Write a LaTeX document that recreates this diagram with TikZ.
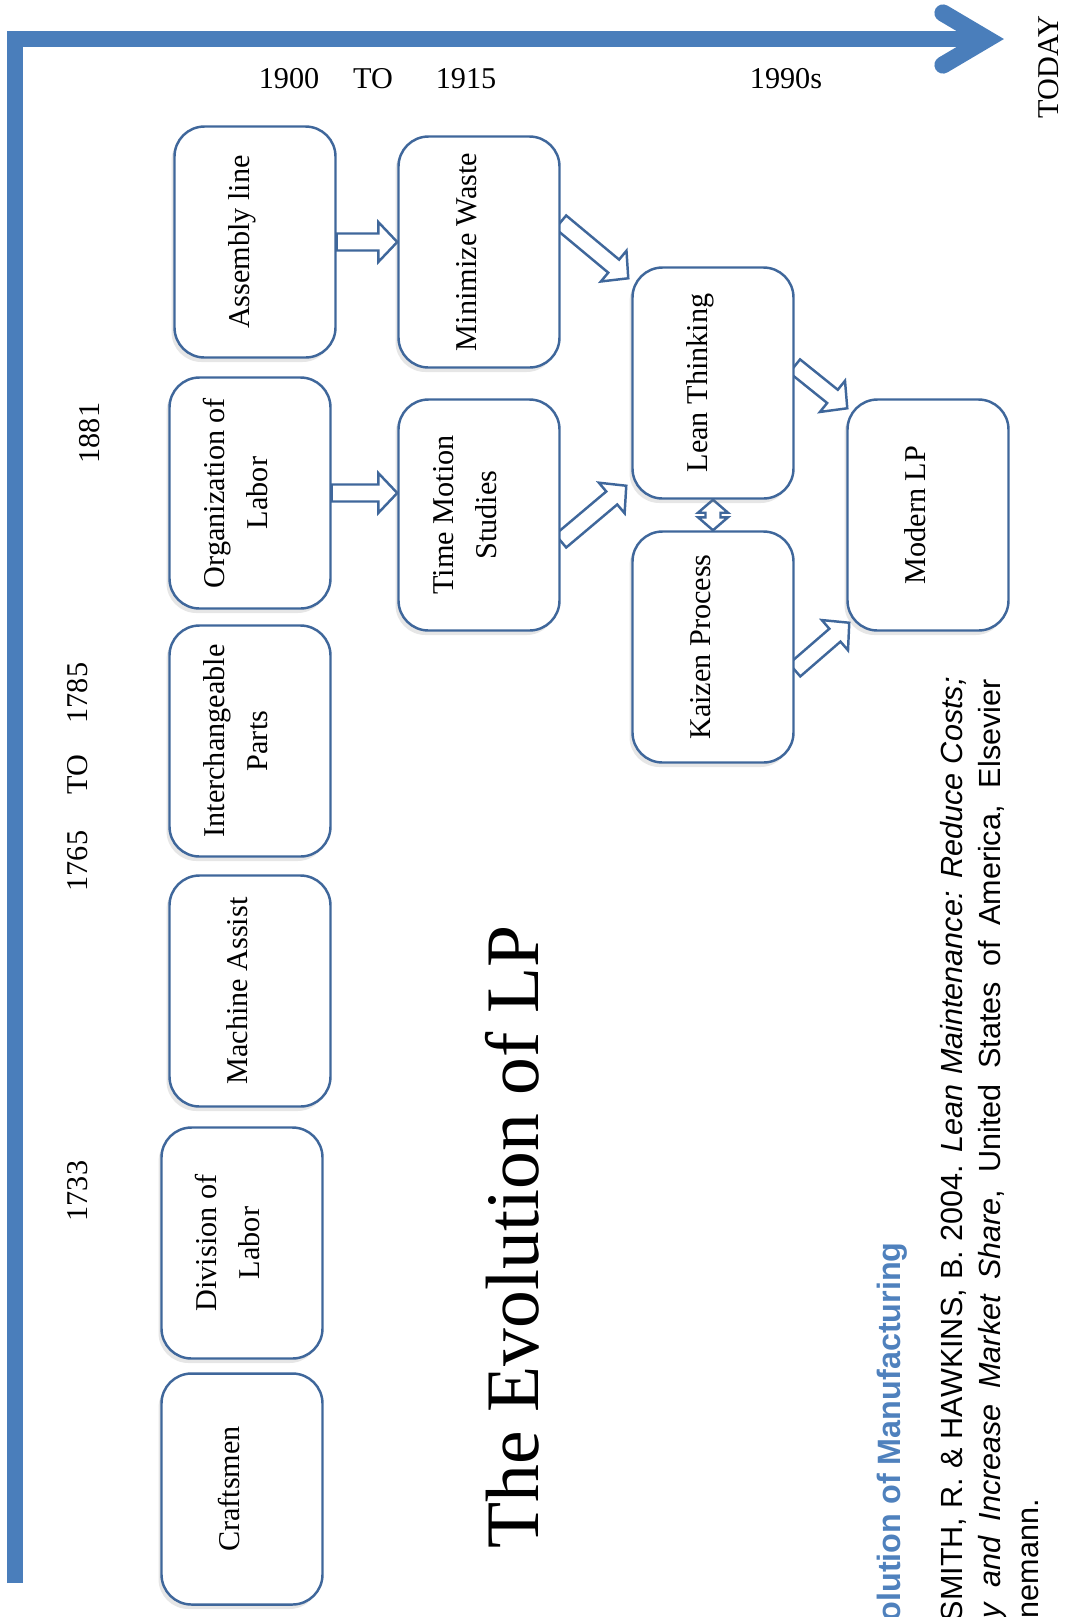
\documentclass[tikz,border=0pt]{standalone}
\usepackage{fontspec}
\usepackage{graphicx}
\setmainfont{Liberation Serif}
\newfontfamily\refsans{Liberation Sans}
\usetikzlibrary{calc,shadows,backgrounds}

\definecolor{axisblue}{HTML}{4A7EBB}
\definecolor{edgeblue}{HTML}{3F679B}
\definecolor{headblue}{HTML}{4F81BD}

\tikzset{
  timeline/.style={draw=axisblue, line width=4.6pt},
  stagebox/.style={draw=edgeblue, line width=0.7pt, fill=white,
    rounded corners=3mm, minimum width=16.1mm, minimum height=23.1mm,
    inner sep=0pt, align=center,
    drop shadow={shadow xshift=-0.3mm, shadow yshift=-0.45mm, opacity=0.2}},
  era/.style={inner sep=0pt, anchor=base},
  eraup/.style={inner sep=0pt, anchor=base, rotate=90},
  hollow/.style={draw=edgeblue, line width=0.7pt, fill=white, line join=miter},
  refline/.style={inner sep=0pt, anchor=base west, rotate=90},
  reffont/.style={font=\refsans\fontsize{8.7}{10}\selectfont},
}

% hollow block arrow from #1 to #2: shaft half-width #3, head half-width #4, head length #5
\newcommand\blockarrow[5]{%
  \coordinate (hb) at ($(#2)!#5!(#1)$);
  \draw[hollow] ($(#1)!#3!90:(#2)$) -- ($(hb)!#3!90:(#2)$) -- ($(hb)!#4!90:(#2)$)
    -- (#2) -- ($(hb)!#4!-90:(#2)$) -- ($(hb)!#3!-90:(#2)$)
    -- ($(#1)!#3!-90:(#2)$) -- cycle;
}
% same, with a head at both ends
\newcommand\doubleblockarrow[5]{%
  \coordinate (hba) at ($(#1)!#5!(#2)$);
  \coordinate (hbb) at ($(#2)!#5!(#1)$);
  \draw[hollow] (#1) -- ($(hba)!#4!90:(#2)$) -- ($(hba)!#3!90:(#2)$)
    -- ($(hbb)!#3!90:(#2)$) -- ($(hbb)!#4!90:(#2)$) -- (#2)
    -- ($(hbb)!#4!-90:(#2)$) -- ($(hbb)!#3!-90:(#2)$)
    -- ($(hba)!#3!-90:(#2)$) -- ($(hba)!#4!-90:(#2)$) -- cycle;
}
% upright stage label, turned to read upwards and set a little towards the left edge
\newcommand\stagetext[1]{\rotatebox{90}{\raisebox{1.25mm}[\height][\depth]{#1}}}
\newcommand\twolines[2]{\begin{tabular}{@{}c@{}}#1\\#2\end{tabular}}

\begin{document}
\begin{tikzpicture}[x=0.1mm, y=-0.1mm, font=\fontsize{8.6}{12}\selectfont]
\useasboundingbox (0,0) rectangle (1065,1617);
\clip (0,0) rectangle (1065,1617);

% time axes
\coordinate (axisbottom) at (15,1583);
\coordinate (corner) at (15,39);
\coordinate (axisend) at (982,39);
\coordinate (tipup) at (943,13);
\coordinate (tip) at (987,39);
\coordinate (tipdown) at (943,65);
\draw[timeline] (axisbottom) -- (corner) -- (axisend);
\draw[timeline, line width=4.9pt, line cap=round, line join=miter]
  (tipup) -- (tip) -- (tipdown);

% dates
\node[eraup] (today) at (1058,67) {TODAY};
\node[era] (y1900) at (289,88) {1900};
\node[era] (yto1) at (373,88) {TO};
\node[era] (y1915) at (466,88) {1915};
\node[era] (y1990) at (786,88) {1990s};
\node[eraup] (y1881) at (99,433) {1881};
\node[eraup] (y1785) at (87,693) {1785};
\node[eraup] (yto2) at (87,775) {TO};
\node[eraup] (y1765) at (87,861) {1765};
\node[eraup] (y1733) at (87,1191) {1733};

% stages
\node[stagebox] (asm) at (255,242) {\stagetext{Assembly line}};
\node[stagebox] (org) at (250,493) {\stagetext{\twolines{Organization of}{Labor}}};
\node[stagebox] (inter) at (250,741) {\stagetext{\twolines{Interchangeable}{Parts}}};
\node[stagebox] (mach) at (250,991) {\stagetext{Machine Assist}};
\node[stagebox] (div) at (242,1243) {\stagetext{\twolines{Division of}{Labor}}};
\node[stagebox] (craft) at (242,1489) {\stagetext{Craftsmen}};
\node[stagebox] (mw) at (479,252) {\stagetext{Minimize Waste}};
\node[stagebox] (tms) at (479,515) {\stagetext{\twolines{Time Motion}{Studies}}};
\node[stagebox] (lt) at (713,383) {\stagetext{Lean Thinking}};
\node[stagebox] (kz) at (713,647) {\stagetext{Kaizen Process}};
\node[stagebox] (mlp) at (928,515) {\stagetext{Modern LP}};

% hollow arrows between stages
\begin{scope}[on background layer]
  \coordinate (a1s) at (asm.east);
  \coordinate (a1e) at (asm.east -| mw.west);
  \blockarrow{a1s}{a1e}{0.85mm}{2.0mm}{1.9mm}
  \coordinate (a2s) at (org.east);
  \coordinate (a2e) at (org.east -| tms.west);
  \blockarrow{a2s}{a2e}{0.85mm}{2.0mm}{1.9mm}
  \coordinate (a3s) at ($(mw.east)+(0,-30)$);
  \coordinate (a3e) at ($(lt.north west)+(-3,12)$);
  \blockarrow{a3s}{a3e}{0.85mm}{2.0mm}{1.9mm}
  \coordinate (a4s) at ($(tms.east)+(0,26)$);
  \coordinate (a4e) at ($(lt.south west)+(-5,-14)$);
  \blockarrow{a4s}{a4e}{0.85mm}{2.0mm}{1.9mm}
  \coordinate (a5s) at ($(lt.east)+(0,-17)$);
  \coordinate (a5e) at ($(mlp.north west)+(1,10)$);
  \blockarrow{a5s}{a5e}{0.85mm}{2.0mm}{1.9mm}
  \coordinate (a6s) at ($(kz.east)+(0,23)$);
  \coordinate (a6e) at ($(mlp.south west)+(3,-9)$);
  \blockarrow{a6s}{a6e}{0.85mm}{2.0mm}{1.9mm}
  \doubleblockarrow{lt.south}{kz.north}{0.75mm}{1.5mm}{1.3mm}
\end{scope}

% title
\node[eraup, font=\fontsize{21.5}{26}\selectfont] (title) at (538,1237) {The Evolution of LP};

% reference lines
\node[refline, text=headblue, font=\refsans\bfseries\fontsize{9.2}{11}\selectfont]
  (heading) at (900,1622) {olution of Manufacturing};
\node[refline, reffont] (ref1) at (962,1622)
  {\makebox[94.4mm][s]{SMITH, R. \& HAWKINS, B. 2004. \textit{Lean Maintenance: Reduce Costs;}}};
\node[refline, reffont] (ref2) at (1000,1619)
  {\makebox[93.9mm][s]{\textit{y and Increase Market Share}, United States of America, Elsevier}};
\node[refline, reffont] (ref3) at (1038,1619) {nemann.};
\end{tikzpicture}
\end{document}
